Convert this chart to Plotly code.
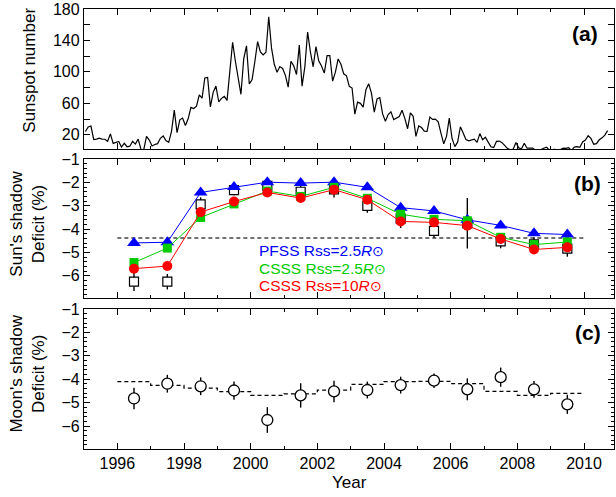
import plotly.graph_objects as go

# ---------------- Panel (a): monthly sunspot number (Jan 1995 - Sep 2010) ----------------
ssn_first_year = 1995
ssn_1995 = [24.2, 29.9, 31.1, 14.0, 14.5, 15.6, 14.5, 14.3, 11.8, 21.1, 9.0, 10.0]
ssn_1996 = [11.5, 4.4, 9.2, 4.8, 5.5, 11.8, 8.2, 14.4, 1.6, 0.9, 17.9, 13.3]
ssn_1997 = [5.7, 7.6, 8.7, 15.5, 18.5, 12.7, 10.4, 24.4, 51.3, 22.8, 39.0, 41.2]
ssn_1998 = [31.9, 40.3, 54.8, 53.4, 56.3, 70.7, 66.6, 92.2, 92.9, 55.5, 74.0, 81.9]
ssn_1999 = [62.0, 66.3, 68.8, 63.7, 106.4, 137.7, 113.5, 93.7, 71.5, 116.7, 133.2, 84.6]
ssn_2000 = [90.1, 112.9, 138.5, 125.5, 121.6, 124.9, 170.1, 130.5, 109.7, 99.4, 106.8, 104.4]
ssn_2001 = [95.6, 80.6, 113.5, 107.7, 96.6, 134.0, 81.8, 106.4, 150.7, 125.5, 106.5, 132.2]
ssn_2002 = [114.1, 107.4, 98.4, 120.7, 120.8, 88.3, 99.6, 116.4, 109.6, 97.5, 95.0, 81.6]
ssn_2003 = [79.5, 46.2, 61.5, 60.0, 55.2, 77.4, 85.0, 72.7, 48.8, 65.5, 67.3, 46.5]
ssn_2004 = [37.3, 45.8, 49.1, 39.3, 41.5, 43.2, 51.1, 40.9, 27.7, 48.0, 43.5, 17.9]
ssn_2005 = [31.3, 29.2, 24.5, 24.4, 42.6, 39.6, 39.9, 36.4, 22.1, 8.5, 18.0, 41.2]
ssn_2006 = [15.3, 4.9, 10.6, 30.2, 22.3, 13.9, 12.2, 12.9, 14.4, 10.4, 21.5, 13.6]
ssn_2007 = [16.9, 10.6, 4.8, 3.7, 11.7, 12.0, 10.0, 6.2, 2.4, 0.9, 1.7, 10.1]
ssn_2008 = [3.3, 2.1, 9.3, 2.9, 2.9, 3.1, 0.5, 0.5, 1.1, 2.9, 4.1, 0.8]
ssn_2009 = [1.5, 1.4, 0.7, 1.2, 2.9, 2.6, 3.5, 0.0, 4.3, 4.8, 4.1, 10.8]
ssn_2010 = [13.2, 18.8, 15.4, 8.0, 8.7, 13.6, 16.1, 19.6, 25.2]

ssn = (ssn_1995 + ssn_1996 + ssn_1997 + ssn_1998 + ssn_1999 + ssn_2000 + ssn_2001 +
       ssn_2002 + ssn_2003 + ssn_2004 + ssn_2005 + ssn_2006 + ssn_2007 + ssn_2008 +
       ssn_2009 + ssn_2010)
ssn_time = [ssn_first_year + (i + 0.5) / 12.0 for i in range(len(ssn))]

# ---------------- Panel (b): Sun's shadow deficit (%) ----------------
years = [1996.5, 1997.5, 1998.5, 1999.5, 2000.5, 2001.5, 2002.5,
         2003.5, 2004.5, 2005.5, 2006.5, 2007.5, 2008.5, 2009.5]
sun_obs = [-6.25, -6.25, -2.94, -2.33, -2.15, -2.40, -2.30,
           -3.00, -3.55, -4.07, -3.75, -4.52, -4.65, -4.83]
sun_obs_err = [0.40, 0.33, 0.30, 0.22, 0.30, 0.25, 0.35,
               0.30, 0.40, 0.30, 1.08, 0.30, 0.30, 0.35]
pfss_25 = [-4.59, -4.56, -2.43, -2.20, -1.99, -2.03, -1.99,
           -2.21, -3.08, -3.22, -3.60, -3.84, -4.18, -4.23]
csss_25 = [-5.43, -4.81, -3.50, -2.92, -2.37, -2.60, -2.21,
           -2.68, -3.36, -3.58, -3.64, -4.35, -4.66, -4.55]
csss_10 = [-5.69, -5.58, -3.27, -2.82, -2.43, -2.67, -2.31,
           -2.74, -3.67, -3.71, -3.85, -4.42, -4.87, -4.78]
sun_ref_years = [1996, 2010]
sun_ref_level = [-4.38, -4.38]

# ---------------- Panel (c): Moon's shadow deficit (%) ----------------
moon_obs = [-4.82, -4.19, -4.30, -4.48, -5.74, -4.69, -4.52,
            -4.46, -4.25, -4.06, -4.43, -3.91, -4.43, -5.07]
moon_obs_err = [0.46, 0.38, 0.38, 0.39, 0.55, 0.52, 0.46,
                0.36, 0.36, 0.31, 0.47, 0.41, 0.36, 0.41]
moon_exp_years = [1996, 1997, 1998, 1999, 2000, 2001, 2002, 2003,
                  2004, 2005, 2006, 2007, 2008, 2009, 2010]
moon_expected = [-4.10, -4.26, -4.38, -4.53, -4.69, -4.62, -4.46, -4.22,
                 -4.10, -4.09, -4.19, -4.52, -4.69, -4.60, -4.60]

FONT = "Liberation Sans, Arial, Helvetica, sans-serif"
BLUE = "#0000ff"
GREEN = "#00cc00"
RED = "#ff0000"

fig = go.Figure()

# (a)
fig.add_trace(go.Scatter(x=ssn_time, y=ssn, mode="lines",
                         line=dict(color="black", width=1.2),
                         xaxis="x", yaxis="y", showlegend=False))

# (b)
fig.add_trace(go.Scatter(x=sun_ref_years, y=sun_ref_level, mode="lines",
                         line=dict(color="#444444", width=1.4, dash="4px,3px"),
                         xaxis="x2", yaxis="y2", showlegend=False))
fig.add_trace(go.Scatter(x=years, y=sun_obs, mode="markers",
                         marker=dict(symbol="square", size=9, color="white",
                                     line=dict(color="black", width=1.2)),
                         error_y=dict(type="data", array=sun_obs_err, color="black",
                                      thickness=1.4, width=0),
                         xaxis="x2", yaxis="y2", showlegend=False))
fig.add_trace(go.Scatter(x=years, y=pfss_25, mode="lines+markers",
                         line=dict(color=BLUE, width=1),
                         marker=dict(symbol="triangle-up", size=12, color=BLUE),
                         xaxis="x2", yaxis="y2", showlegend=False))
fig.add_trace(go.Scatter(x=years, y=csss_25, mode="lines+markers",
                         line=dict(color=GREEN, width=1),
                         marker=dict(symbol="square", size=9, color=GREEN),
                         xaxis="x2", yaxis="y2", showlegend=False))
fig.add_trace(go.Scatter(x=years, y=csss_10, mode="lines+markers",
                         line=dict(color=RED, width=1),
                         marker=dict(symbol="circle", size=10, color=RED),
                         xaxis="x2", yaxis="y2", showlegend=False))

# (c)
fig.add_trace(go.Scatter(x=moon_exp_years, y=moon_expected, mode="lines",
                         line=dict(color="black", width=1.2, dash="4px,3px", shape="hv"),
                         xaxis="x3", yaxis="y3", showlegend=False))
fig.add_trace(go.Scatter(x=years, y=moon_obs, mode="markers",
                         marker=dict(symbol="circle", size=11, color="white",
                                     line=dict(color="black", width=1.3)),
                         error_y=dict(type="data", array=moon_obs_err, color="black",
                                      thickness=1.4, width=0),
                         xaxis="x3", yaxis="y3", showlegend=False))

tick_font = dict(family=FONT, size=16, color="black")


def xax(anchor, labels):
    return dict(range=[1995, 2010.9], domain=[0, 1], anchor=anchor,
                showline=True, linecolor="black", linewidth=1.3, mirror="ticks",
                ticks="inside", ticklen=6, tickwidth=1.2, tickcolor="black",
                tickmode="linear", tick0=1996, dtick=2,
                minor=dict(tickmode="linear", tick0=1995, dtick=1, ticks="inside",
                           ticklen=3, tickwidth=1, tickcolor="black"),
                showgrid=False, zeroline=False, showticklabels=labels,
                tickfont=tick_font)


def yax(anchor, dom, rng):
    return dict(range=rng, domain=dom, anchor=anchor,
                showline=True, linecolor="black", linewidth=1.3, mirror="ticks",
                ticks="inside", ticklen=6, tickwidth=1.2, tickcolor="black",
                tickmode="linear", tick0=-1, dtick=1,
                minor=dict(tickmode="linear", tick0=-1, dtick=0.2, ticks="inside",
                           ticklen=3, tickwidth=1, tickcolor="black"),
                showgrid=False, zeroline=False, tickfont=tick_font)


ya = dict(range=[2, 180], domain=[0.682, 1], anchor="x",
          showline=True, linecolor="black", linewidth=1.3, mirror="ticks",
          ticks="inside", ticklen=6, tickwidth=1.2, tickcolor="black",
          tickmode="array",
          tickvals=[20, 40, 60, 80, 100, 120, 140, 160, 180],
          ticktext=["20", "", "60", "", "100", "", "140", "", "180"],
          showgrid=False, zeroline=False, tickfont=tick_font)

annotations = []


def ann(text, x, y, size=17, angle=0, bold=False, color="black"):
    if bold:
        text = "<b>" + text + "</b>"
    annotations.append(dict(text=text, x=x, y=y, xref="paper", yref="paper",
                            showarrow=False, textangle=angle,
                            xanchor="center", yanchor="middle",
                            font=dict(family=FONT, size=size, color=color)))


# axis titles
ann("Sunspot number", (29 - 84) / 531, (449 - 68) / 443, angle=-90)
ann("Sun's shadow<br>Deficit (%)", (27 - 84) / 531, (449 - 222) / 443, angle=-90)
ann("Moon's shadow<br>Deficit (%)", (27 - 84) / 531, (449 - 373) / 443, angle=-90)
ann("Year", 0.5, (449 - 483) / 443)

# panel tags
ann("(a)", (586 - 84) / 531, (449 - 31) / 443, size=21, bold=True)
ann("(b)", (588 - 84) / 531, (449 - 182) / 443, size=21, bold=True)
ann("(c)", (589 - 84) / 531, (449 - 332) / 443, size=21, bold=True)

# model labels
sun = "<span style='font-size:14px'>⊙</span>"
for txt, col, py in [("PFSS Rss=2.5<i>R</i>" + sun, BLUE, 249),
                     ("CSSS Rss=2.5<i>R</i>" + sun, GREEN, 267),
                     ("CSSS Rss=10<i>R</i>" + sun, RED, 284)]:
    annotations.append(dict(text=txt, x=(257 - 84) / 531, y=(449 - py) / 443,
                            xref="paper", yref="paper", showarrow=False,
                            xanchor="left", yanchor="middle",
                            font=dict(family=FONT, size=15.5, color=col)))

fig.update_layout(
    width=616, height=497,
    margin=dict(l=84, r=1, t=6, b=48, pad=0),
    paper_bgcolor="white", plot_bgcolor="white",
    showlegend=False,
    font=dict(family=FONT, size=16, color="black"),
    xaxis=xax("y", False),
    xaxis2=xax("y2", False),
    xaxis3=xax("y3", True),
    yaxis=ya,
    yaxis2=yax("x2", [0.343, 0.659], [-6.95, -1]),
    yaxis3=yax("x3", [0, 0.318], [-6.98, -1]),
    annotations=annotations,
)

fig.write_html("out.html")
